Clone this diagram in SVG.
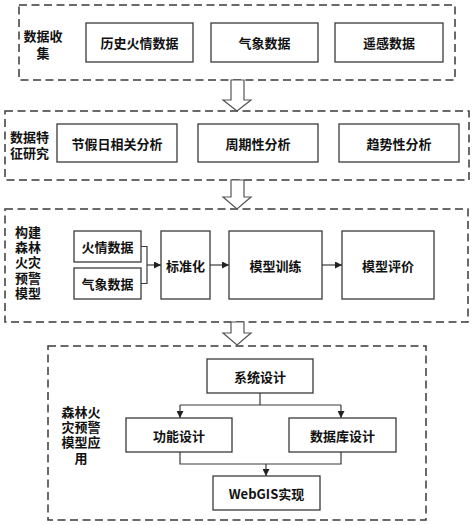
<svg xmlns="http://www.w3.org/2000/svg" width="474" height="525" viewBox="0 0 474 525">
<defs>
<style>
.dash{fill:none;stroke:#3a3a3a;stroke-width:1.5;stroke-dasharray:8,4.5}
.box{fill:#fff;stroke:#3a3a3a;stroke-width:1.3}
.t{font-family:"Noto Sans CJK SC","Liberation Serif",sans-serif;font-size:13px;font-weight:bold;fill:#111;text-anchor:middle;dominant-baseline:central}
.ts{font-family:"Liberation Sans","Noto Sans CJK SC",sans-serif;font-size:13px;font-weight:bold;fill:#111;dominant-baseline:central}
.tm{font-family:"Liberation Sans","Noto Sans CJK SC",sans-serif;font-size:13px;font-weight:bold;fill:#111;text-anchor:middle;dominant-baseline:central}
.ln{fill:none;stroke:#3a3a3a;stroke-width:1.2}
.big{fill:#fff;stroke:#555;stroke-width:1.2}
</style>
<marker id="ah" viewBox="0 0 8 8" refX="8" refY="4" markerWidth="7" markerHeight="7" markerUnits="userSpaceOnUse" orient="auto">
<path d="M0,0 L8,4 L0,8 z" fill="#222"/>
</marker>
</defs>

<g id="stage1">
<rect class="dash" x="19" y="5" width="436" height="75"/>
<text class="tm" x="43" y="36"><tspan x="43" y="36">数据收</tspan><tspan x="43" dy="17">集</tspan></text>
</g>
<g id="n-history"><rect class="box" x="86" y="23" width="107" height="39"/><text class="t" x="139.5" y="42.5">历史火情数据</text></g>
<g id="n-weather"><rect class="box" x="211" y="23" width="107" height="39"/><text class="t" x="264.5" y="42.5">气象数据</text></g>
<g id="n-remote"><rect class="box" x="335" y="23" width="108" height="39"/><text class="t" x="389" y="42.5">遥感数据</text></g>

<g id="stage2">
<rect class="dash" x="5" y="111" width="464" height="69"/>
<text class="ts" x="10" y="137"><tspan x="10" y="137">数据特</tspan><tspan x="10" dy="16">征研究</tspan></text>
</g>
<g id="n-holiday"><rect class="box" x="57" y="124" width="120" height="38"/><text class="t" x="117" y="143">节假日相关分析</text></g>
<g id="n-period"><rect class="box" x="198" y="124" width="120" height="38"/><text class="t" x="258" y="143">周期性分析</text></g>
<g id="n-trend"><rect class="box" x="339" y="124" width="120" height="38"/><text class="t" x="399" y="143">趋势性分析</text></g>

<g id="stage3">
<rect class="dash" x="5" y="209" width="463" height="113"/>
<text class="ts" x="15" y="232"><tspan x="15" y="232">构建</tspan><tspan x="15" dy="15.2">森林</tspan><tspan x="15" dy="15.2">火灾</tspan><tspan x="15" dy="15.2">预警</tspan><tspan x="15" dy="15.2">模型</tspan></text>
</g>
<g id="n-fire"><rect class="box" x="74" y="231" width="67" height="31"/><text class="t" x="107.5" y="246.5">火情数据</text></g>
<g id="n-met"><rect class="box" x="74" y="268" width="67" height="31"/><text class="t" x="107.5" y="283.5">气象数据</text></g>
<g id="n-std"><rect class="box" x="161" y="231" width="49" height="68"/><text class="t" x="185.5" y="265">标准化</text></g>
<g id="n-train"><rect class="box" x="229" y="231" width="93" height="68"/><text class="t" x="275.5" y="265">模型训练</text></g>
<g id="n-eval"><rect class="box" x="342" y="231" width="92" height="68"/><text class="t" x="388" y="265">模型评价</text></g>

<g id="stage4">
<rect class="dash" x="48" y="346" width="378" height="174"/>
<text class="tm" x="81" y="412"><tspan x="81" y="412">森林火</tspan><tspan x="81" dy="15.2">灾预警</tspan><tspan x="81" dy="15.2">模型应</tspan><tspan x="81" dy="15.2">用</tspan></text>
</g>
<g id="n-sys"><rect class="box" x="207" y="359" width="106" height="34"/><text class="t" x="260" y="376">系统设计</text></g>
<g id="n-func"><rect class="box" x="126" y="418" width="106" height="34"/><text class="t" x="179" y="435">功能设计</text></g>
<g id="n-db"><rect class="box" x="289" y="418" width="107" height="34"/><text class="t" x="342.5" y="435">数据库设计</text></g>
<g id="n-webgis"><rect class="box" x="213" y="476" width="107" height="34"/><text class="t" x="266.5" y="493">WebGIS实现</text></g>

<g id="connectors">
<path class="big" d="M231,80 V100 H223 L237,111 L251,100 H244 V80 Z"/>
<path class="big" d="M231,180 V197 H223 L237,209 L251,197 H244 V180 Z"/>
<path class="big" d="M231,322 V333 H223 L237,345 L251,333 H244 V322 Z"/>
<path class="ln" d="M141,246.5 H147 V283.5 H141"/>
<path class="ln" d="M147,265 H161" marker-end="url(#ah)"/>
<path class="ln" d="M210,265 H229" marker-end="url(#ah)"/>
<path class="ln" d="M322,265 H342" marker-end="url(#ah)"/>
<path class="ln" d="M260,393 V405"/>
<path class="ln" d="M180,405 H341"/>
<path class="ln" d="M180,405 V418" marker-end="url(#ah)"/>
<path class="ln" d="M341,405 V418" marker-end="url(#ah)"/>
<path class="ln" d="M180,452 V464 H341 V452"/>
<path class="ln" d="M266,464 V476" marker-end="url(#ah)"/>
</g>
</svg>
